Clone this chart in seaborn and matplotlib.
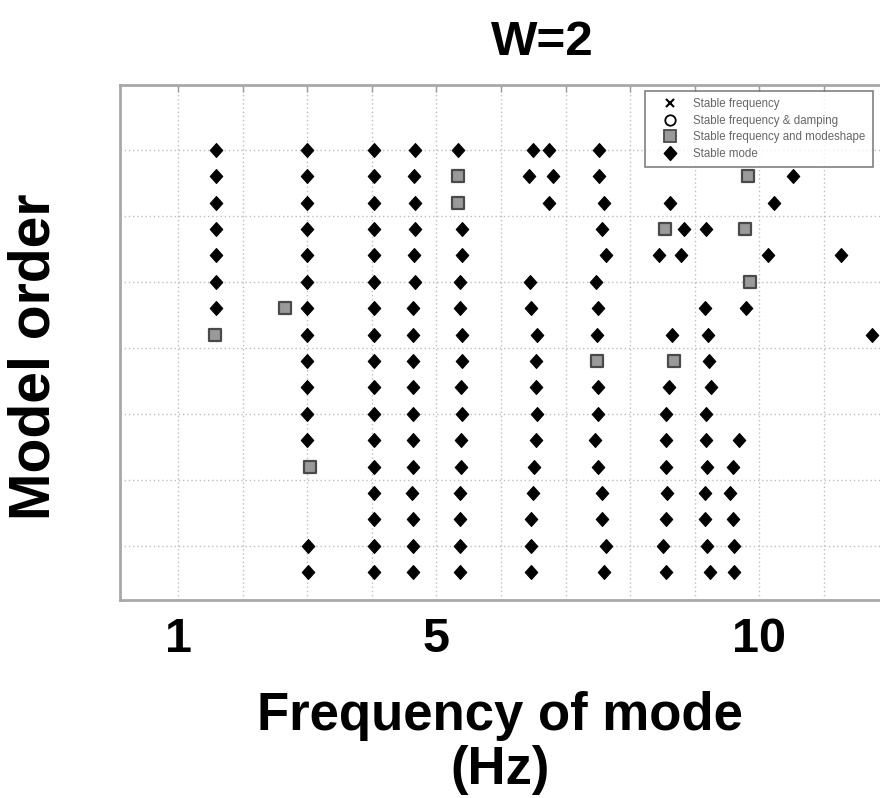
import matplotlib
matplotlib.use("Agg")
import matplotlib.pyplot as plt
import pandas as pd
import seaborn as sns
from matplotlib.lines import Line2D
from matplotlib.markers import MarkerStyle
from matplotlib.path import Path

# Model orders of the stabilisation diagram, bottom row first
model_orders = [3, 5, 7, 9, 11, 13, 15, 17, 19, 21, 23, 25, 27, 29, 31, 33, 35]

# Frequencies (Hz) marked "Stable mode" at each model order
stable_mode_hz = [
    [3.01, 4.03, 4.64, 5.36, 6.46, 7.59, 8.55, 9.23, 9.61],
    [3.01, 4.03, 4.63, 5.36, 6.47, 7.62, 8.51, 9.19, 9.61],
    [4.03, 4.63, 5.37, 6.47, 7.57, 8.56, 9.16, 9.60],
    [4.03, 4.62, 5.37, 6.49, 7.56, 8.57, 9.16, 9.55],
    [4.03, 4.64, 5.38, 6.51, 7.51, 8.56, 9.19, 9.59],
    [2.99, 4.03, 4.64, 5.38, 6.55, 7.46, 8.55, 9.17, 9.69],
    [2.99, 4.03, 4.63, 5.40, 6.56, 7.50, 8.56, 9.17],
    [2.99, 4.03, 4.64, 5.38, 6.55, 7.50, 8.61, 9.25],
    [2.99, 4.03, 4.64, 5.39, 6.55, 9.22],
    [2.99, 4.03, 4.63, 5.39, 6.56, 7.48, 8.65, 9.21, 11.75],
    [1.58, 2.99, 4.03, 4.64, 5.37, 6.46, 7.50, 9.16, 9.79],
    [1.58, 2.99, 4.03, 4.67, 5.36, 6.45, 7.47],
    [1.58, 2.99, 4.03, 4.66, 5.39, 7.63, 8.45, 8.79, 10.14, 11.27],
    [1.58, 2.99, 4.03, 4.67, 5.39, 7.57, 8.84, 9.17],
    [1.58, 2.99, 4.03, 4.67, 6.75, 7.60, 8.62, 10.23],
    [1.58, 2.99, 4.03, 4.66, 6.44, 6.80, 7.52, 10.52],
    [1.58, 2.99, 4.03, 4.67, 5.34, 6.49, 6.75, 7.52],
]

# Frequencies (Hz) marked "Stable frequency and modeshape" at each model order
stable_shape_hz = [
    [], [], [], [], [3.04], [], [], [], [7.48, 8.68], [1.57],
    [2.65], [9.85], [], [8.54, 9.78], [5.34], [5.34, 9.83], [],
]

legend_labels = [
    "Stable frequency",
    "Stable frequency & damping",
    "Stable frequency and modeshape",
    "Stable mode",
]
title_text = "W=2"
x_label_text = "Frequency of mode\n(Hz)"
y_label_text = "Model order"
x_tick_values = [1, 5, 10]


def to_long(values_by_order):
    rows = [(f, o) for o, fs in zip(model_orders, values_by_order) for f in fs]
    return pd.DataFrame(rows, columns=["frequency", "order"])


mode_df = to_long(stable_mode_hz)
shape_df = to_long(stable_shape_hz)

sns.set_style("white")
plt.rcParams["font.family"] = ["Liberation Sans", "DejaVu Sans"]
plt.rcParams["text.color"] = "black"
plt.rcParams["xtick.color"] = "black"

W, H, DPI = 880, 798, 100
fig = plt.figure(figsize=(W / DPI, H / DPI), dpi=DPI)
ax = fig.add_axes([120 / W, (H - 600) / H, 760 / W, 515 / H])

# diamond used for the stable-mode markers
diamond = MarkerStyle(Path([(0, 1), (0.9, 0), (0, -1), (-0.9, 0), (0, 1)],
                           [Path.MOVETO, Path.LINETO, Path.LINETO, Path.LINETO,
                            Path.CLOSEPOLY]))

sns.scatterplot(data=mode_df, x="frequency", y="order", ax=ax, marker=diamond,
                s=100, color="black", edgecolor="black", linewidth=0.8,
                legend=False, zorder=3)
sns.scatterplot(data=shape_df, x="frequency", y="order", ax=ax, marker="s",
                s=70, color="#9a9a9a", edgecolor="#4a4a4a", linewidth=1.6,
                legend=False, zorder=3)

ax.set_xlim(0.1, 11.87)
ax.set_ylim(0.9, 39.9)

ax.set_xticks(range(1, 12))
ax.set_xticklabels([str(v) if v in x_tick_values else "" for v in range(1, 12)])
ax.set_yticks(range(5, 40, 5))
ax.set_yticklabels([])
ax.tick_params(axis="both", direction="in", length=5, width=1, color="#9a9a9a")
ax.tick_params(axis="x", top=True, pad=12, labelcolor="black")
for lab in ax.get_xticklabels():
    lab.set_fontweight("bold")
    lab.set_fontsize(35)

ax.grid(True, color="#bdbdbd", linestyle=(0, (1, 2)), linewidth=1)
ax.set_axisbelow(True)
for side in ["left", "bottom", "top"]:
    ax.spines[side].set_color("#a8a8a8")
    ax.spines[side].set_linewidth(2)
ax.spines["right"].set_visible(False)
ax.set_xlabel("")
ax.set_ylabel("")

fig.text(542 / W, 1 - 55 / H, title_text, ha="center", va="baseline",
         fontsize=35.5, fontweight="bold", color="black")
fig.text(500 / W, 1 - 743 / H, x_label_text, ha="center", va="center",
         fontsize=38, fontweight="bold", linespacing=1.1, color="black")
fig.text(35 / W, 1 - 357 / H, y_label_text, ha="center", va="center",
         rotation=90, fontsize=41, fontweight="bold", color="black")

handles = [
    Line2D([], [], linestyle="none", marker="x", color="black", markersize=6,
           markeredgewidth=1.5),
    Line2D([], [], linestyle="none", marker="o", markerfacecolor="white",
           markeredgecolor="black", markersize=7.5, markeredgewidth=1.3),
    Line2D([], [], linestyle="none", marker="s", markerfacecolor="#9a9a9a",
           markeredgecolor="#4a4a4a", markersize=8, markeredgewidth=1.3),
    Line2D([], [], linestyle="none", marker=diamond, color="black",
           markersize=10),
]
leg = ax.legend(handles, legend_labels, loc="upper left",
                bbox_to_anchor=(645 / W, 1 - 91 / H),
                bbox_transform=fig.transFigure, borderaxespad=0,
                fontsize=8.3, frameon=True, fancybox=False, borderpad=0.65,
                labelspacing=0.38, handlelength=3.0, handletextpad=0.5)
leg.get_frame().set_edgecolor("#606060")
leg.get_frame().set_linewidth(1.2)
for t in leg.get_texts():
    t.set_color("#666666")

fig.savefig("out.png", dpi=DPI, facecolor="white")
